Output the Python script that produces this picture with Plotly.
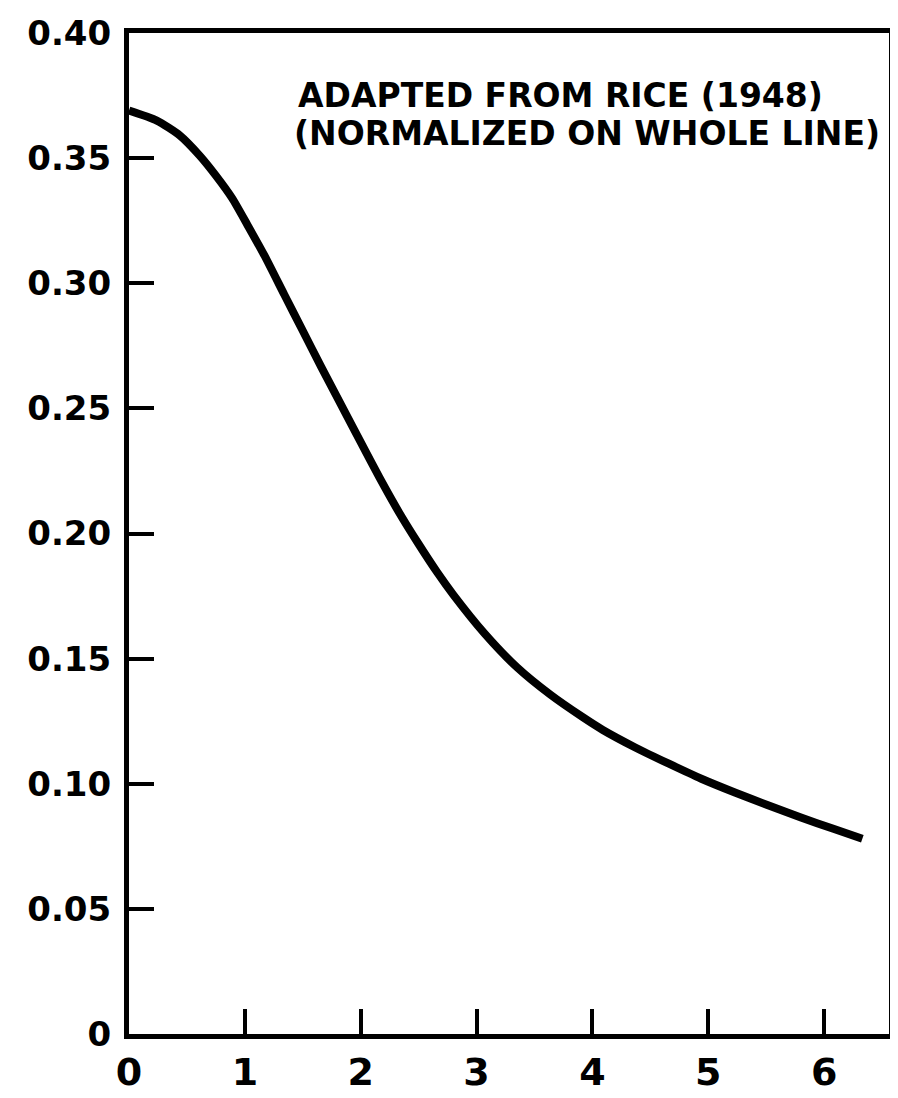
import plotly.graph_objects as go

# Curve (x, density)
x_vals = [0.0, 0.24, 0.44, 0.61, 0.75, 0.89, 1.02, 1.17, 1.34, 1.50, 1.66, 1.83,
          2.00, 2.16, 2.33, 2.49, 2.66, 2.80, 3.07, 3.35, 3.64, 3.92, 4.09, 4.37,
          4.66, 4.94, 5.23, 5.51, 5.80, 6.08, 6.33]
y_vals = [0.369, 0.365, 0.359, 0.351, 0.343, 0.334, 0.3235, 0.311, 0.2955, 0.281, 0.2665, 0.2515,
          0.2365, 0.2225, 0.2085, 0.1965, 0.1845, 0.1755, 0.160, 0.1465, 0.1355, 0.1265, 0.1215, 0.1145,
          0.108, 0.102, 0.0965, 0.0915, 0.0865, 0.082, 0.078]

x_tickvals = [0, 1, 2, 3, 4, 5, 6]
x_ticktext = ["0", "1", "2", "3", "4", "5", "6"]
y_tickvals = [0, 0.05, 0.10, 0.15, 0.20, 0.25, 0.30, 0.35, 0.40]
y_ticktext = ["0", "0.05", "0.10", "0.15", "0.20", "0.25", "0.30", "0.35", "0.40"]

note_lines = ["ADAPTED FROM RICE (1948)", "(NORMALIZED ON WHOLE LINE)"]

FONT = "DejaVu Sans"

fig = go.Figure()
fig.add_trace(go.Scatter(
    x=x_vals, y=y_vals, mode="lines",
    line=dict(color="black", width=8, shape="spline", smoothing=0.6),
    showlegend=False, hoverinfo="skip",
))

fig.add_annotation(x=1.44, y=0.375, xref="x", yref="y", text=note_lines[0],
                   showarrow=False, xanchor="left", yanchor="middle",
                   font=dict(family=FONT, size=33, color="black", weight="bold"))
fig.add_annotation(x=1.41, y=0.360, xref="x", yref="y", text=note_lines[1],
                   showarrow=False, xanchor="left", yanchor="middle",
                   font=dict(family=FONT, size=33, color="black", weight="bold"))

axis_common = dict(
    showline=True, linecolor="black", linewidth=5, mirror=True,
    ticks="inside", ticklen=25, tickwidth=4, tickcolor="black",
    showgrid=False, zeroline=False, automargin=False,
)

fig.update_xaxes(range=[0, 6.56], tickmode="array", tickvals=x_tickvals, ticktext=x_ticktext,
                 tickfont=dict(family=FONT, size=38, color="black", weight="bold"),
                 **axis_common)
fig.update_yaxes(range=[0, 0.40], tickmode="array", tickvals=y_tickvals, ticktext=y_ticktext,
                 tickfont=dict(family=FONT, size=34, color="black", weight="bold"),
                 ticklabelstandoff=6, ticklabeloverflow="allow",
                 **axis_common)

fig.update_layout(
    width=898, height=1098,
    margin=dict(l=121, r=17, t=25, b=72),
    paper_bgcolor="white", plot_bgcolor="white",
)

fig.write_html("out.html")
